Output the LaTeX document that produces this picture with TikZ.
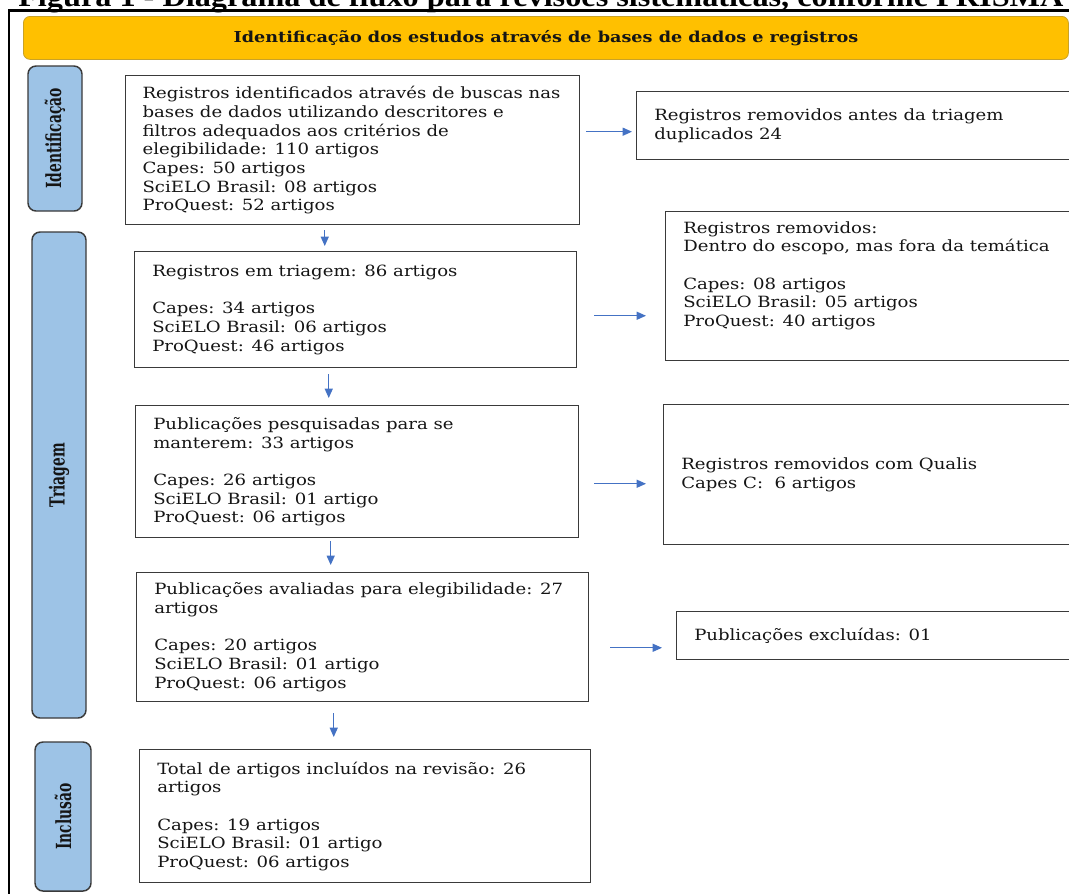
\documentclass[tikz,border=0pt]{standalone}
\usepackage{fontspec}
\usepackage{graphicx}
\setmainfont{DejaVu Serif}[FakeStretch=1.17]
\newfontfamily\titlefont{Liberation Serif}[FakeStretch=1.1]
\newfontfamily\pillfont{DejaVu Serif}
\usetikzlibrary{arrows.meta}
\definecolor{bannerfill}{HTML}{FFC000}
\definecolor{bannerdraw}{HTML}{C9A227}
\definecolor{pillfill}{HTML}{9DC3E6}
\definecolor{pilldraw}{HTML}{3A3A3A}
\definecolor{boxdraw}{HTML}{3A3A3A}
\definecolor{arrowblue}{HTML}{4472C4}
\definecolor{txtcol}{HTML}{151515}
\tikzset{
  boxnode/.style={draw=boxdraw, line width=1.1pt, anchor=north west, inner sep=0pt},
  txt/.style={anchor=west, align=left, inner sep=0pt, text=txtcol,
    font=\fontsize{11.6}{14}\selectfont},
  pill/.style={draw=pilldraw, fill=pillfill, line width=1.1pt, rounded corners=6pt,
    rotate=90, inner sep=0pt, text=txtcol, font=\pillfont\bfseries\fontsize{10.4}{12}\selectfont},
  banner/.style={draw=bannerdraw, fill=bannerfill, line width=0.6pt, rounded corners=5pt,
    anchor=north west, inner sep=0pt, text=txtcol, font=\bfseries\fontsize{11.3}{13}\selectfont},
  arr/.style={draw=arrowblue, line width=0.9pt, -{Triangle[length=7pt,width=6pt]}},
}
\begin{document}
\begin{tikzpicture}[x=0.75pt,y=-0.75pt]
\useasboundingbox (0,0) rectangle (1069,893);
\clip (0,0) rectangle (1069,893);
\fill[white] (0,0) rectangle (1069,893);

% title (partly cut off at the top, as in the source)
\node[anchor=base west, inner sep=0pt, text=black,
  font=\titlefont\bfseries\fontsize{22}{26}\selectfont] (title) at (18,6.5)
  {Figura 1 - Diagrama de fluxo para revisões sistemáticas, conforme PRISMA};

% outer frame
\draw[line width=2.2pt, black] (9,895) -- (9,10.5) -- (1075,10.5);

% banner
\node[banner, minimum width=1045*0.75pt, minimum height=43*0.75pt] (banner) at (23,16)
  {Identificação dos estudos através de bases de dados e registros};

% phase pills
\node[pill, minimum width=145*0.75pt, minimum height=54*0.75pt] (p1) at (55,138.5)
  {\scalebox{1}[1.5]{Identificação}};
\node[pill, minimum width=486*0.75pt, minimum height=54*0.75pt] (p2) at (59,475)
  {\scalebox{1}[1.5]{Triagem}};
\node[pill, minimum width=149*0.75pt, minimum height=56*0.75pt] (p3) at (63,816.5)
  {\scalebox{1}[1.5]{Inclusão}};

% main boxes
\node[boxnode, minimum width=454*0.75pt, minimum height=149*0.75pt] (b1) at (125,75) {};
\node[boxnode, minimum width=442*0.75pt, minimum height=116*0.75pt] (b2) at (134,251) {};
\node[boxnode, minimum width=443*0.75pt, minimum height=132*0.75pt] (b3) at (135,405) {};
\node[boxnode, minimum width=452*0.75pt, minimum height=129*0.75pt] (b4) at (136,572) {};
\node[boxnode, minimum width=451*0.75pt, minimum height=133*0.75pt] (b5) at (139,749) {};

% right boxes (run past the right edge)
\node[boxnode, minimum width=460*0.75pt, minimum height=68*0.75pt] (r1) at (636,91) {};
\node[boxnode, minimum width=440*0.75pt, minimum height=149*0.75pt] (r2) at (665,211) {};
\node[boxnode, minimum width=440*0.75pt, minimum height=140*0.75pt] (r3) at (663,404) {};
\node[boxnode, minimum width=420*0.75pt, minimum height=48*0.75pt] (r4) at (676,611) {};

% texts
\node[txt] (t1) at ([xshift=13pt]b1.west) {Registros identificados através de buscas nas\\
bases de dados utilizando descritores e\\
filtros adequados aos critérios de\\
elegibilidade: 110 artigos\\
Capes: 50 artigos\\
SciELO Brasil: 08 artigos\\
ProQuest: 52 artigos};
\node[txt] (t2) at ([xshift=13.5pt]b2.west) {Registros em triagem: 86 artigos\\[14pt]
Capes: 34 artigos\\
SciELO Brasil: 06 artigos\\
ProQuest: 46 artigos};
\node[txt] (t3) at ([xshift=13.5pt]b3.west) {Publicações pesquisadas para se\\
manterem: 33 artigos\\[14pt]
Capes: 26 artigos\\
SciELO Brasil: 01 artigo\\
ProQuest: 06 artigos};
\node[txt] (t4) at ([xshift=13.5pt]b4.west) {Publicações avaliadas para elegibilidade: 27\\
artigos\\[14pt]
Capes: 20 artigos\\
SciELO Brasil: 01 artigo\\
ProQuest: 06 artigos};
\node[txt] (t5) at ([xshift=13.5pt]b5.west) {Total de artigos incluídos na revisão: 26\\
artigos\\[14pt]
Capes: 19 artigos\\
SciELO Brasil: 01 artigo\\
ProQuest: 06 artigos};
\node[txt] (tr1) at ([xshift=13.5pt]r1.west) {Registros removidos antes da triagem\\
duplicados 24};
\node[txt] (tr2) at ([xshift=13.5pt,yshift=8pt]r2.west) {Registros removidos:\\
Dentro do escopo, mas fora da temática\\[14pt]
Capes: 08 artigos\\
SciELO Brasil: 05 artigos\\
ProQuest: 40 artigos};
\node[txt] (tr3) at ([xshift=13.5pt]r3.west) {Registros removidos com Qualis\\
Capes C:\ \ 6 artigos};
\node[txt] (tr4) at ([xshift=13.5pt]r4.west) {Publicações excluídas: 01};

% vertical connectors
\draw[arr, shorten <=3.75pt, shorten >=3.75pt] ([xshift=-21pt]b1.south) -- ([xshift=-21pt]b1.south |- b2.north);
\draw[arr, shorten <=4.5pt, shorten >=5.25pt] ([xshift=-20.25pt]b2.south) -- ([xshift=-20.25pt]b2.south |- b3.north);
\draw[arr, shorten <=2.25pt, shorten >=5.25pt] ([xshift=-19.9pt]b3.south) -- ([xshift=-19.9pt]b3.south |- b4.north);
\draw[arr, shorten <=8.25pt, shorten >=9pt] ([xshift=-21.75pt]b4.south) -- ([xshift=-21.75pt]b4.south |- b5.north);

% horizontal connectors
\draw[arr, shorten <=4.5pt, shorten >=3pt] ([yshift=13.9pt]b1.east) -- ([yshift=13.9pt]b1.east -| r1.west);
\draw[arr, shorten <=12.75pt, shorten >=14.25pt] ([yshift=-4.5pt]b2.east) -- ([yshift=-4.5pt]b2.east -| r2.west);
\draw[arr, shorten <=11.25pt, shorten >=12.75pt] ([yshift=-9pt]b3.east) -- ([yshift=-9pt]b3.east -| r3.west);
\draw[arr, shorten <=15.75pt, shorten >=10.5pt] ([yshift=-7.9pt]b4.east) -- ([yshift=-7.9pt]b4.east -| r4.west);
\end{tikzpicture}
\end{document}
